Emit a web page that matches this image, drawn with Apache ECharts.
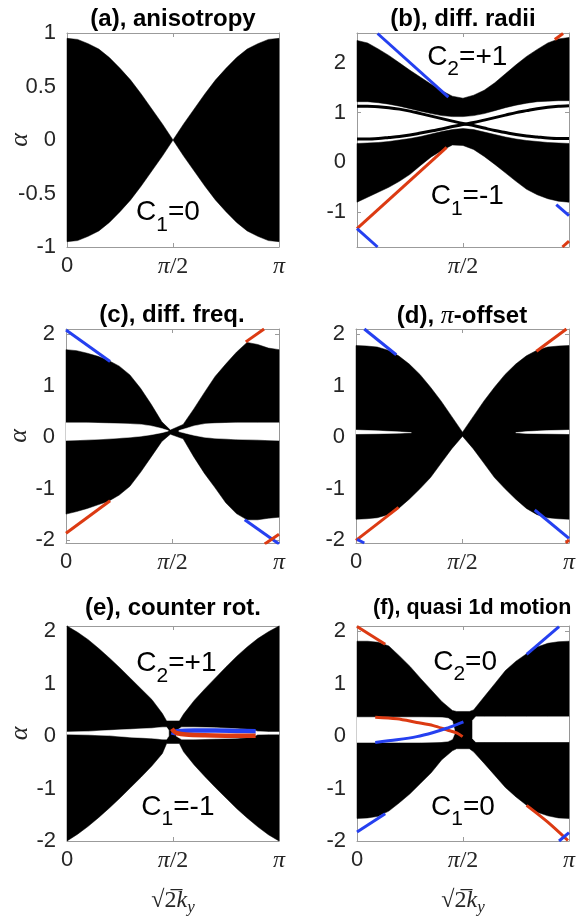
<!DOCTYPE html>
<html><head><meta charset="utf-8">
<script src="https://cdn.jsdelivr.net/npm/echarts@6/dist/echarts.min.js"></script>
<style>html,body{margin:0;padding:0;background:#fff}#c{width:579px;height:916px}</style>
</head><body><div id="c"></div><script>
// ---------------- tick values / titles ----------------
const xTicksFull = [0, 0.5, 1];
const xTicksB = [0.5];
const yTicksA = [-1, -0.5, 0, 0.5, 1];
const yTicksB = [-1, 0, 1, 2];
const yTicks2 = [-2, -1, 0, 1, 2];
const titles = ['(a), anisotropy', '(b), diff. radii', '(c), diff. freq.', '(d), {p|π}-offset', '(e), counter rot.', '(f), quasi 1d motion'];

// ---------------- (a) anisotropy ----------------
const aX = [0, .05, .1, .15, .2, .25, .3, .35, .4, .45, .5, .55, .6, .65, .7, .75, .8, .85, .9, .95, 1];
const aUpper = [0.95, 0.94, 0.90, 0.85, 0.77, 0.67, 0.56, 0.43, 0.29, 0.15, 0.0, 0.15, 0.29, 0.43, 0.56, 0.67, 0.77, 0.85, 0.90, 0.94, 0.95];
const aLower = [-0.95, -0.94, -0.90, -0.85, -0.77, -0.67, -0.56, -0.43, -0.29, -0.15, 0.0, -0.15, -0.29, -0.43, -0.56, -0.67, -0.77, -0.85, -0.90, -0.94, -0.95];

// ---------------- (b) diff. radii ----------------
const bX = [0, .05, .1, .15, .2, .25, .3, .35, .4, .45, .5, .55, .6, .65, .7, .75, .8, .85, .9, .95, 1];
const bHighTop = [2.45, 2.40, 2.28, 2.15, 2.0, 1.85, 1.71, 1.57, 1.44, 1.33, 1.29, 1.35, 1.45, 1.6, 1.78, 1.96, 2.13, 2.27, 2.4, 2.48, 2.51];
const bHighBot = [1.22, 1.22, 1.2, 1.17, 1.13, 1.08, 1.03, 0.98, 0.94, 0.92, 0.92, 0.94, 0.98, 1.04, 1.1, 1.15, 1.19, 1.22, 1.23, 1.24, 1.24];
const bLowTop = [0.38, 0.39, 0.4, 0.42, 0.45, 0.48, 0.52, 0.57, 0.62, 0.66, 0.68, 0.66, 0.61, 0.56, 0.51, 0.47, 0.44, 0.42, 0.4, 0.39, 0.38];
const bLowBot = [-0.8, -0.7, -0.6, -0.5, -0.38, -0.24, -0.06, 0.11, 0.24, 0.35, 0.34, 0.26, 0.12, -0.04, -0.21, -0.38, -0.54, -0.65, -0.73, -0.78, -0.8];
const bCurveDown = [1.13, 1.13, 1.12, 1.1, 1.07, 1.03, 0.98, 0.93, 0.88, 0.83, 0.78, 0.74, 0.69, 0.64, 0.6, 0.56, 0.53, 0.51, 0.49, 0.48, 0.48];
const bCurveUp = [0.47, 0.47, 0.48, 0.5, 0.52, 0.55, 0.59, 0.63, 0.67, 0.72, 0.76, 0.8, 0.85, 0.9, 0.95, 1.0, 1.04, 1.08, 1.11, 1.13, 1.14];
const bBlueTop = [[0.097, 2.59], [0.431, 1.31]];
const bRedLeft = [[0, -1.33], [0.423, 0.30]];
const bBlueLeft = [[0, -1.33], [0.097, -1.7]];
const bRedTopR = [[0.933, 2.47], [0.972, 2.59]];
const bBlueRight = [[0.94, -0.85], [1.0, -1.07]];
const bRedBotR = [[0.969, -1.7], [1.0, -1.58]];

// ---------------- (c) diff. freq. ----------------
const cX = [0, .05, .1, .15, .2, .25, .3, .35, .4, .45, .49, .55, .6, .65, .7, .75, .8, .85, .9, .95, 1];
const cUpper = [1.70, 1.68, 1.63, 1.57, 1.49, 1.38, 1.21, 0.95, 0.64, 0.3, 0.14, 0.25, 0.55, 0.87, 1.18, 1.42, 1.65, 1.84, 1.8, 1.73, 1.7];
const cLower = [-1.49, -1.44, -1.38, -1.31, -1.24, -1.12, -0.95, -0.68, -0.38, -0.08, 0.06, -0.03, -0.38, -0.7, -0.98, -1.27, -1.48, -1.6, -1.6, -1.57, -1.55];
const cGapLX = [0, .1, .2, .3, .35, .4, .45, .48];
const cGapLTop = [0.28, 0.28, 0.27, 0.26, 0.25, 0.22, 0.17, 0.13];
const cGapLBot = [-0.06, -0.05, -0.03, 0.0, 0.02, 0.05, 0.09, 0.12];
const cGapRX = [.53, .57, .6, .65, .7, .8, .9, 1];
const cGapRTop = [0.13, 0.18, 0.22, 0.26, 0.27, 0.28, 0.28, 0.28];
const cGapRBot = [0.11, 0.07, 0.04, 0.0, -0.02, -0.04, -0.05, -0.06];
const cBlueTop = [[0, 2.08], [0.207, 1.47]];
const cRedBot = [[0, -1.86], [0.207, -1.23]];
const cRedTopR = [[0.844, 1.85], [0.93, 2.1]];
const cBlueBotR = [[0.839, -1.6], [1.0, -2.07]];
const cRedBotR = [[0.933, -2.07], [1.0, -1.88]];

// ---------------- (d) pi-offset ----------------
const dX = [0, .05, .1, .15, .2, .25, .3, .35, .4, .45, .5, .55, .6, .65, .7, .75, .8, .85, .9, .95, 1];
const dUpper = [1.78, 1.77, 1.75, 1.69, 1.58, 1.42, 1.22, 0.97, 0.7, 0.4, 0.1, 0.4, 0.7, 0.97, 1.22, 1.42, 1.58, 1.69, 1.75, 1.77, 1.78];
const dLower = [-1.59, -1.58, -1.56, -1.5, -1.38, -1.2, -1.0, -0.78, -0.5, -0.22, 0.02, -0.22, -0.5, -0.78, -1.0, -1.2, -1.38, -1.5, -1.56, -1.58, -1.59];
const dGapLX = [0, .1, .2, .26];
const dGapLTop = [0.14, 0.125, 0.105, 0.09];
const dGapLBot = [0.065, 0.07, 0.08, 0.09];
const dGapRX = [.75, .8, .9, 1];
const dGapRTop = [0.09, 0.11, 0.13, 0.14];
const dGapRBot = [0.09, 0.075, 0.07, 0.065];
const dBlueTop = [[0.039, 2.1], [0.189, 1.6]];
const dRedBot = [[0, -2.0], [0.2, -1.36]];
const dBlueBot = [[0.005, -1.98], [0.039, -2.05]];
const dRedTopR = [[0.847, 1.67], [0.988, 2.1]];
const dBlueBotR = [[0.839, -1.41], [1.0, -1.96]];
const dRedBotR = [[0.985, -2.05], [1.0, -1.99]];

// ---------------- (e) counter rot. ----------------
const eX = [0, .05, .1, .15, .2, .25, .3, .35, .4, .45, .47, .53, .55, .6, .65, .7, .75, .8, .85, .9, .95, 1];
const eUpper = [2.1, 1.98, 1.84, 1.67, 1.49, 1.3, 1.1, 0.9, 0.7, 0.43, 0.29, 0.29, 0.42, 0.68, 0.9, 1.11, 1.32, 1.52, 1.7, 1.86, 1.99, 2.1];
const eLower = [-2.0, -1.87, -1.72, -1.55, -1.37, -1.18, -0.98, -0.78, -0.57, -0.33, -0.14, -0.14, -0.3, -0.55, -0.77, -0.98, -1.18, -1.38, -1.56, -1.73, -1.88, -2.0];
const eGapLX = [0, .1, .2, .3, .4, .45, .47, .48];
const eGapLTop = [0.08, 0.09, 0.11, 0.13, 0.15, 0.17, 0.17, 0.11];
const eGapLBot = [0.035, 0.025, 0.01, -0.02, -0.04, -0.06, -0.06, 0.0];
const eGapRX = [.515, .54, .6, .7, .8, .87, .9, .95, 1];
const eGapRTop = [0.1, 0.17, 0.17, 0.16, 0.14, 0.12, 0.09, 0.08, 0.08];
const eGapRBot = [0.0, -0.06, -0.06, -0.05, -0.04, -0.02, 0.03, 0.035, 0.035];
const eBlue = [[0.5, 0.02], [0.505, 0.07], [0.52, 0.095], [0.6, 0.105], [0.7, 0.105], [0.8, 0.1], [0.89, 0.095]];
const eRed = [[0.495, 0.14], [0.505, 0.09], [0.52, 0.055], [0.56, 0.03], [0.65, 0.015], [0.75, 0.008], [0.89, 0.005]];

// ---------------- (f) quasi 1d motion ----------------
const fX = [0, .05, .1, .15, .2, .25, .3, .35, .4, .45, .47, .53, .55, .6, .65, .7, .75, .8, .85, .9, .95, 1];
const fUpper = [1.81, 1.81, 1.79, 1.72, 1.53, 1.33, 1.1, 0.88, 0.66, 0.49, 0.47, 0.47, 0.5, 0.75, 1.0, 1.25, 1.43, 1.57, 1.7, 1.77, 1.8, 1.81];
const fLower = [-1.57, -1.56, -1.53, -1.43, -1.27, -1.1, -0.9, -0.7, -0.45, -0.28, -0.24, -0.24, -0.3, -0.52, -0.75, -0.98, -1.16, -1.32, -1.45, -1.52, -1.56, -1.57];
const fGapLX = [0, .1, .2, .3, .4, .43, .45, .46];
const fGapLTop = [0.36, 0.36, 0.36, 0.36, 0.355, 0.34, 0.29, 0.12];
const fGapLBot = [-0.12, -0.12, -0.12, -0.12, -0.11, -0.1, -0.06, 0.04];
const fGapRX = [.545, .56, .6, .7, .8, .9, 1];
const fGapRTop = [0.3, 0.37, 0.37, 0.37, 0.37, 0.37, 0.37];
const fGapRBot = [-0.05, -0.11, -0.11, -0.11, -0.11, -0.11, -0.11];
const fRedTop = [[0, 2.09], [0.133, 1.75]];
const fBlueTop = [[0.8, 1.56], [0.953, 2.09]];
const fBlueBot = [[0, -1.83], [0.133, -1.48]];
const fRedBot = [[0.8, -1.32], [0.9, -1.64], [0.995, -1.99]];
const fBlueBotR = [[0.953, -2.0], [1.0, -1.84]];
const fRedMid = [[0.086, 0.36], [0.188, 0.33], [0.282, 0.26], [0.36, 0.2], [0.423, 0.12], [0.47, 0.06], [0.498, -0.01]];
const fBlueMid = [[0.086, -0.12], [0.188, -0.07], [0.282, -0.01], [0.36, 0.07], [0.423, 0.15], [0.47, 0.22], [0.502, 0.27]];

// ---------------- layout & style ----------------
const layout = [
  {left: 67, top: 33, width: 212, height: 214},
  {left: 357, top: 33, width: 212, height: 214},
  {left: 66, top: 329, width: 213, height: 214},
  {left: 356, top: 329, width: 213, height: 214},
  {left: 67, top: 626, width: 212, height: 215},
  {left: 357, top: 626, width: 212, height: 215}
];
const yRange = [[-1, 1], [-1.7, 2.6], [-2.05, 2.1], [-2.05, 2.1], [-2, 2.1], [-2, 2.1]];
const yTickSets = [yTicksA, yTicksB, yTicks2, yTicks2, yTicks2, yTicks2];
const xTickSets = [xTicksFull, xTicksB, xTicksFull, xTicksFull, xTicksFull, xTicksFull];
const titleTop = [7, 7, 303, 303, 596, 597];
const titleX = [173, 463, 172, 462, 173, 373];
const titleAlign = ['center', 'center', 'center', 'center', 'center', 'left'];
const titleSize = [24, 24, 24, 24, 24, 21.5];

const SANS = 'Liberation Sans, Arial, Helvetica, sans-serif';
const SERIF = 'Liberation Serif, Times New Roman, serif';
const GRAY = '#9b9b9b';
const LBL = '#262626';
const BLUE = '#2540f0';
const RED = '#dc3a12';

const xRich = {
  s: {fontFamily: SANS, fontSize: 22, color: LBL},
  p: {fontFamily: SERIF, fontStyle: 'italic', fontSize: 24, color: LBL},
  n: {fontFamily: SERIF, fontSize: 24, color: LBL}
};
function fmtX(v) {
  if (v === 0) return '{s|0}';
  if (v === 0.5) return '{p|π}{n|/2}';
  return '{p|π}';
}
const nameRich = {
  r: {fontFamily: SERIF, fontSize: 24, color: LBL},
  o: {fontFamily: SERIF, fontSize: 24, color: LBL},
  k: {fontFamily: SERIF, fontStyle: 'italic', fontSize: 24, color: LBL},
  y: {fontFamily: SERIF, fontStyle: 'italic', fontSize: 17, color: LBL, lineHeight: 17, verticalAlign: 'bottom'}
};

const xAxes = [], yAxes = [];
for (let g = 0; g < 6; g++) {
  const xt = xTickSets[g], yt = yTickSets[g];
  const bottom = {
    type: 'value', gridIndex: g, min: 0, max: 1, position: 'bottom',
    axisLine: {show: true, onZero: false, lineStyle: {color: GRAY, width: 1}},
    axisTick: {show: true, inside: true, length: 4, customValues: xt, lineStyle: {color: GRAY}},
    axisLabel: {show: true, customValues: xt, margin: 8, formatter: fmtX, rich: xRich},
    splitLine: {show: false}
  };
  if (g >= 4) {
    Object.assign(bottom, {name: '{r|√}{o|2\u0305}{k|k}{y|y}', nameLocation: 'middle', nameGap: 45,
      nameMoveOverlap: false,
      nameTextStyle: {rich: nameRich, fontSize: 24, lineHeight: 30}});
  }
  const top = {
    type: 'value', gridIndex: g, min: 0, max: 1, position: 'top',
    axisLine: {show: true, onZero: false, lineStyle: {color: GRAY, width: 1}},
    axisTick: {show: true, inside: true, length: 4, customValues: xt, lineStyle: {color: GRAY}},
    axisLabel: {show: false}, splitLine: {show: false}
  };
  xAxes.push(bottom, top);
  const left = {
    type: 'value', gridIndex: g, min: yRange[g][0], max: yRange[g][1], position: 'left',
    axisLine: {show: true, onZero: false, lineStyle: {color: GRAY, width: 1}},
    axisTick: {show: true, inside: true, length: 4, customValues: yt, lineStyle: {color: GRAY}},
    axisLabel: {show: true, customValues: yt, margin: 11, formatter: v => String(v),
      fontFamily: SANS, fontSize: 22, color: LBL},
    splitLine: {show: false}
  };
  if (g % 2 === 0) {
    Object.assign(left, {name: 'α', nameLocation: 'middle', nameRotate: 90, nameGap: 34,
      nameMoveOverlap: false,
      nameTextStyle: {fontFamily: SERIF, fontStyle: 'italic', fontSize: 26, color: LBL}});
  }
  const right = {
    type: 'value', gridIndex: g, min: yRange[g][0], max: yRange[g][1], position: 'right',
    axisLine: {show: true, onZero: false, lineStyle: {color: GRAY, width: 1}},
    axisTick: {show: true, inside: true, length: 4, customValues: yt, lineStyle: {color: GRAY}},
    axisLabel: {show: false}, splitLine: {show: false}
  };
  yAxes.push(left, right);
}

// ---------------- series helpers ----------------
function band(g, xs, up, lo, fill) {
  return {
    type: 'custom', coordinateSystem: 'cartesian2d', xAxisIndex: 2 * g, yAxisIndex: 2 * g,
    data: [[xs[0], up[0]]], silent: true, z: 2,
    renderItem: function (params, api) {
      const pts = [];
      for (let i = 0; i < xs.length; i++) pts.push(api.coord([xs[i], up[i]]));
      for (let i = xs.length - 1; i >= 0; i--) pts.push(api.coord([xs[i], lo[i]]));
      return {type: 'polygon', shape: {points: pts}, style: {fill: fill, stroke: fill, lineWidth: 0.5}};
    }
  };
}
function curveXY(g, xs, ys, color, width) {
  return curve(g, xs.map((x, i) => [x, ys[i]]), color, width);
}
function curve(g, pts, color, width) {
  return {
    type: 'line', xAxisIndex: 2 * g, yAxisIndex: 2 * g, data: pts, showSymbol: false, symbol: 'none',
    smooth: 0.3, clip: true, silent: true, z: 4,
    lineStyle: {color: color, width: width, cap: 'butt'}
  };
}
const noteRich = {
  c: {fontFamily: SANS, fontSize: 28, lineHeight: 46, fill: '#000'},
  s: {fontFamily: SANS, fontSize: 21, lineHeight: 21, verticalAlign: 'bottom', fill: '#000'}
};
function note(g, pt, sub, rest) {
  return {
    type: 'custom', coordinateSystem: 'cartesian2d', xAxisIndex: 2 * g, yAxisIndex: 2 * g,
    data: [pt], silent: true, z: 6,
    renderItem: function (params, api) {
      const p = api.coord([api.value(0), api.value(1)]);
      return {type: 'text', x: p[0], y: p[1],
        style: {text: '{c|C}{s|' + sub + '}{c|' + rest + '}', rich: noteRich, align: 'center', verticalAlign: 'middle'}};
    }
  };
}

const series = [
  // (a)
  band(0, aX, aUpper, aLower, '#000'),
  note(0, [0.476, -0.68], '1', '=0'),
  // (b)
  band(1, bX, bHighTop, bHighBot, '#000'),
  band(1, bX, bLowTop, bLowBot, '#000'),
  curveXY(1, bX, bCurveDown, '#000', 3),
  curveXY(1, bX, bCurveUp, '#000', 3),
  curve(1, bBlueTop, BLUE, 3), curve(1, bRedLeft, RED, 3), curve(1, bBlueLeft, BLUE, 3),
  curve(1, bRedTopR, RED, 3), curve(1, bBlueRight, BLUE, 3), curve(1, bRedBotR, RED, 3),
  note(1, [0.52, 2.12], '2', '=+1'),
  note(1, [0.52, -0.69], '1', '=-1'),
  // (c)
  band(2, cX, cUpper, cLower, '#000'),
  band(2, cGapLX, cGapLTop, cGapLBot, '#fff'),
  band(2, cGapRX, cGapRTop, cGapRBot, '#fff'),
  curve(2, cBlueTop, BLUE, 3), curve(2, cRedBot, RED, 3), curve(2, cRedTopR, RED, 3),
  curve(2, cBlueBotR, BLUE, 3), curve(2, cRedBotR, RED, 3),
  // (d)
  band(3, dX, dUpper, dLower, '#000'),
  band(3, dGapLX, dGapLTop, dGapLBot, '#fff'),
  band(3, dGapRX, dGapRTop, dGapRBot, '#fff'),
  curve(3, dBlueTop, BLUE, 3), curve(3, dRedBot, RED, 3), curve(3, dBlueBot, BLUE, 3),
  curve(3, dRedTopR, RED, 3), curve(3, dBlueBotR, BLUE, 3), curve(3, dRedBotR, RED, 3),
  // (e)
  band(4, eX, eUpper, eLower, '#000'),
  band(4, eGapLX, eGapLTop, eGapLBot, '#fff'),
  band(4, eGapRX, eGapRTop, eGapRBot, '#fff'),
  curve(4, eBlue, BLUE, 4.5), curve(4, eRed, RED, 4.5),
  note(4, [0.516, 1.39], '2', '=+1'),
  note(4, [0.523, -1.35], '1', '=-1'),
  // (f)
  band(5, fX, fUpper, fLower, '#000'),
  band(5, fGapLX, fGapLTop, fGapLBot, '#fff'),
  band(5, fGapRX, fGapRTop, fGapRBot, '#fff'),
  curve(5, fRedTop, RED, 3), curve(5, fBlueTop, BLUE, 3), curve(5, fBlueBot, BLUE, 3),
  curve(5, fRedBot, RED, 3), curve(5, fBlueBotR, BLUE, 3),
  curve(5, fRedMid, RED, 3), curve(5, fBlueMid, BLUE, 3),
  note(5, [0.51, 1.41], '2', '=0'),
  note(5, [0.5, -1.35], '1', '=0')
];

const option = {
  animation: false,
  backgroundColor: '#fff',
  title: titles.map((t, i) => ({
    text: t, left: titleX[i], top: titleTop[i], textAlign: titleAlign[i], padding: 0,
    textStyle: {fontFamily: SANS, fontSize: titleSize[i], fontWeight: 'bold', color: '#000',
      rich: {p: {fontFamily: SERIF, fontStyle: 'italic', fontWeight: 'normal', fontSize: 26, color: '#000'}}}
  })),
  grid: layout.map(l => Object.assign({containLabel: false, outerBoundsMode: 'none'}, l)),
  xAxis: xAxes,
  yAxis: yAxes,
  series: series
};
const chart = echarts.init(document.getElementById('c'));
chart.setOption(option);
</script></body></html>
